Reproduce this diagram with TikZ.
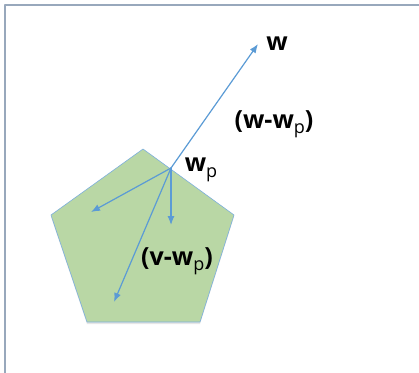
\documentclass[tikz,border=0pt]{standalone}
\usepackage{fontspec}
\setmainfont{Open Sans}
\usetikzlibrary{shadows,arrows.meta}
\definecolor{vecblue}{HTML}{5B9BD5}
\definecolor{polygreen}{HTML}{B9D7A5}
\definecolor{frameblue}{HTML}{98A8BC}
\newcommand{\subp}{\raisebox{-0.4ex}{\fontsize{18}{18}\selectfont\mdseries p}}
\begin{document}
\begin{tikzpicture}[x=1pt,y=-1pt,line cap=round,line join=round,>={Latex[length=9pt,width=7pt]},
  vec/.style={line width=1.2pt,draw=vecblue,->},
  lbl/.style={font=\fontsize{25}{27}\selectfont\bfseries,inner sep=0pt}]
  \useasboundingbox (0,0) rectangle (419,372);
  \draw[line width=2pt,frameblue] (5,373) -- (5,5) -- (420,5);
  \fill[polygreen,draw=vecblue!80,line width=0.6pt,
    drop shadow={opacity=0.2,shadow xshift=0pt,shadow yshift=-2pt}]
    (143,149) -- (234,215) -- (200,322) -- (87,322) -- (51,215) -- cycle;
  \coordinate (wp) at (171,168);
  \coordinate (w) at (258,44);
  \coordinate (a) at (91,212);
  \coordinate (b) at (171,225);
  \coordinate (v) at (114,302);
  \draw[vec] (wp) -- (w);
  \draw[vec] (wp) -- (a);
  \draw[vec] (wp) -- (b);
  \draw[vec] (wp) -- (v);
  \node[lbl] (wlbl) at (277,44) {w};
  \node[lbl] (wwplbl) at (274,124) {(w-w\subp)};
  \node[lbl] (wplbl) at (201,170) {w\subp};
  \node[lbl] (vwplbl) at (177,261) {(v-w\subp)};
\end{tikzpicture}
\end{document}
